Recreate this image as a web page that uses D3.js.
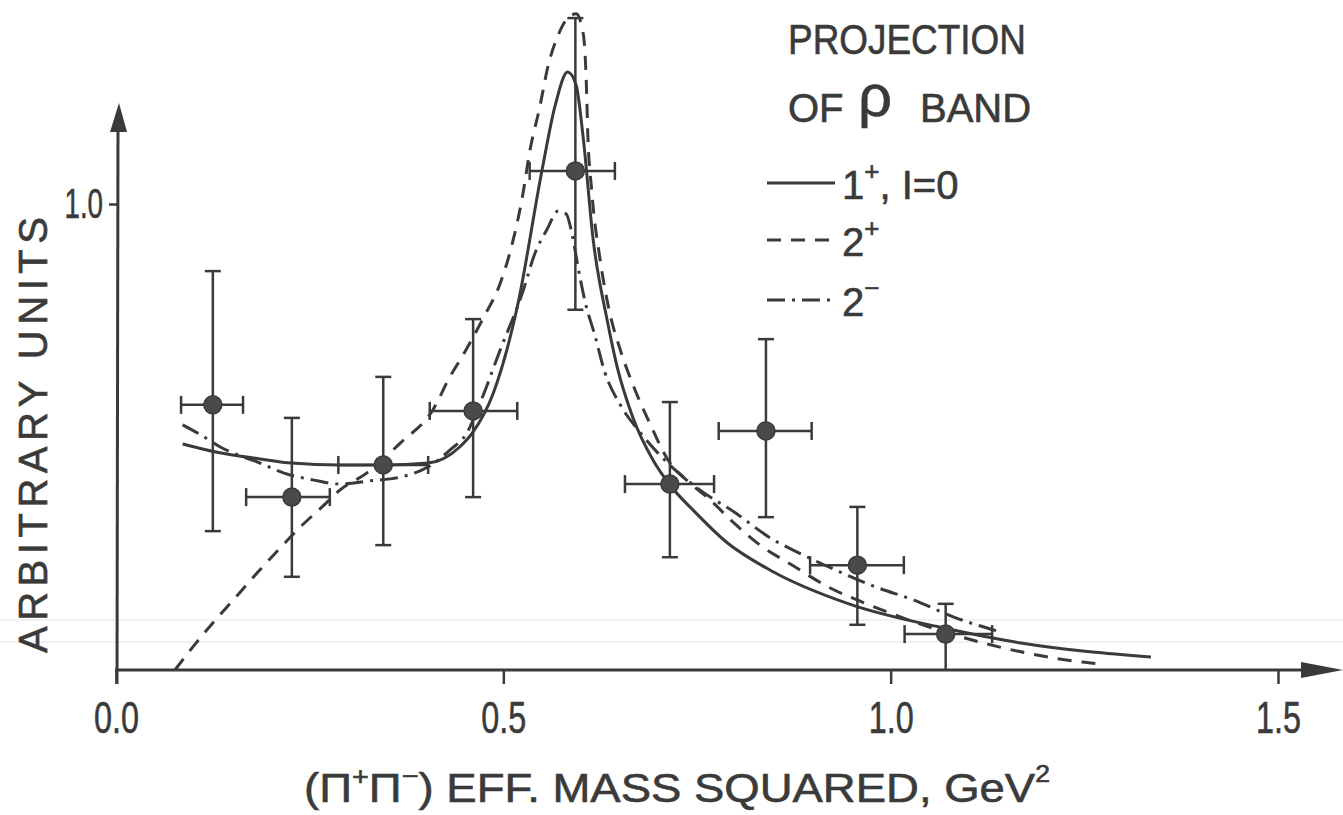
<!DOCTYPE html>
<html lang="en">
<head>
    <meta charset="UTF-8">
    <title>Projection of rho band</title>
    <script src="https://d3js.org/d3.v7.min.js"></script>
    <style>
        html, body { margin: 0; padding: 0; background: #fff; overflow: hidden; }
        text { fill: #3a3a3a; stroke: #3a3a3a; stroke-width: 0.6; font-family: "Liberation Sans", Arial, sans-serif; }
    </style>
</head>
<body>
<div id="chart"></div>
<script>

    // measured points with error bars
    var pointX = [0.125, 0.227, 0.345, 0.461, 0.593, 0.715, 0.839, 0.957, 1.071];
    var pointY = [0.569, 0.371, 0.440, 0.556, 1.071, 0.399, 0.513, 0.225, 0.077];
    var xLow   = [0.084, 0.168, 0.287, 0.405, 0.534, 0.657, 0.778, 0.896, 1.018];
    var xHigh  = [0.164, 0.276, 0.403, 0.518, 0.644, 0.772, 0.898, 1.017, 1.131];
    var yLow   = [0.298, 0.200, 0.268, 0.371, 0.773, 0.242, 0.328, 0.097, 0.000];
    var yHigh  = [0.856, 0.541, 0.629, 0.753, 1.399, 0.575, 0.710, 0.350, 0.142];

    // 1+, I=0 (solid)
    var solidX = [0.086, 0.134, 0.186, 0.227, 0.289, 0.345, 0.403, 0.444, 0.461, 0.487, 0.518, 0.550, 0.567, 0.583,
                  0.594, 0.603, 0.616, 0.634, 0.647, 0.667, 0.693, 0.715, 0.745, 0.789, 0.847, 0.946, 1.069, 1.168, 1.257, 1.336];
    var solidY = [0.485, 0.466, 0.453, 0.444, 0.440, 0.440, 0.444, 0.479, 0.511, 0.594, 0.779, 1.073, 1.212, 1.283,
                  1.255, 1.144, 0.923, 0.751, 0.650, 0.543, 0.451, 0.397, 0.343, 0.273, 0.212, 0.142, 0.090, 0.058, 0.039, 0.028];

    // 2+ (dashed)
    var dashX = [0.076, 0.099, 0.125, 0.156, 0.182, 0.208, 0.238, 0.266, 0.289, 0.324, 0.367, 0.409, 0.431, 0.448, 0.474,
                 0.496, 0.512, 0.525, 0.534, 0.547, 0.558, 0.571, 0.583, 0.594, 0.603, 0.607, 0.609, 0.614, 0.625, 0.638,
                 0.651, 0.670, 0.690, 0.711, 0.741, 0.763, 0.798, 0.833, 0.871, 0.922, 0.966, 1.069, 1.168, 1.209, 1.248, 1.271];
    var dashY = [0.000, 0.049, 0.101, 0.159, 0.208, 0.255, 0.307, 0.350, 0.386, 0.423, 0.487, 0.558, 0.629, 0.676, 0.755,
                 0.830, 0.918, 1.019, 1.112, 1.208, 1.298, 1.363, 1.399, 1.408, 1.367, 1.266, 1.152, 1.030, 0.880, 0.762,
                 0.687, 0.601, 0.526, 0.455, 0.401, 0.371, 0.315, 0.266, 0.227, 0.176, 0.144, 0.082, 0.039, 0.026, 0.017, 0.013];

    // 2- (dash-dot)
    var dotDashX = [0.086, 0.108, 0.134, 0.186, 0.216, 0.254, 0.289, 0.328, 0.367, 0.403, 0.431, 0.453, 0.470, 0.496,
                    0.525, 0.541, 0.556, 0.571, 0.581, 0.589, 0.596, 0.605, 0.618, 0.631, 0.651, 0.676, 0.711, 0.754,
                    0.798, 0.847, 0.882, 0.935, 0.981, 1.030, 1.084, 1.141];
    var dotDashY = [0.526, 0.506, 0.479, 0.444, 0.423, 0.408, 0.399, 0.406, 0.414, 0.436, 0.472, 0.509, 0.573, 0.687,
                    0.811, 0.895, 0.944, 0.985, 0.979, 0.933, 0.869, 0.794, 0.719, 0.639, 0.569, 0.511, 0.446, 0.386,
                    0.339, 0.281, 0.251, 0.210, 0.178, 0.150, 0.112, 0.082];

    var xTicks = [0.0, 0.5, 1.0, 1.5];
    var yTicks = [1.0];

    var legendNames = ["1", "2", "2"];
    var legendSups = ["+", "+", "\u2212"];
    var legendRest = [", I=0", "", ""];

    var ink = "#3a3a3a";
    var width = 1343, height = 815;

    var svg = d3.select("#chart").append("svg")
        .attr("width", width)
        .attr("height", height);

    var x = d3.scaleLinear().domain([0, 1.5]).range([116, 1278]);
    var y = d3.scaleLinear().domain([0, 1]).range([670, 204]);

    // squeeze a text element horizontally (the original lettering is narrow)
    function squeeze(sel, k) {
        sel.each(function () {
            var w = this.getComputedTextLength();
            d3.select(this).attr("textLength", w * k).attr("lengthAdjust", "spacingAndGlyphs");
        });
    }

    // faint scanner streaks
    svg.selectAll("line.streak")
        .data([620, 642])
        .enter().append("line")
        .attr("x1", 0).attr("x2", width)
        .attr("y1", function (d) { return d; }).attr("y2", function (d) { return d; })
        .attr("stroke", "#e2e2e2").attr("stroke-width", 1);

    // axes lines with arrows
    svg.append("line")
        .attr("x1", x(0) - 1).attr("x2", width - 30)
        .attr("y1", y(0)).attr("y2", y(0))
        .attr("stroke", ink).attr("stroke-width", 3);
    svg.append("path")
        .attr("d", "M" + (width - 42) + "," + (y(0) - 8) + "L" + width + "," + y(0) + "L" + (width - 42) + "," + (y(0) + 8) + "Z")
        .attr("fill", ink);

    svg.append("line")
        .attr("x1", x(0) + 1).attr("x2", x(0) + 2)
        .attr("y1", y(0) + 14).attr("y2", 125)
        .attr("stroke", ink).attr("stroke-width", 3);
    svg.append("path")
        .attr("d", "M" + (x(0) - 6) + ",132L" + (x(0) + 3) + ",103L" + (x(0) + 11) + ",132Z")
        .attr("fill", ink);

    // tick marks and labels
    var xAxis = svg.append("g")
        .attr("transform", "translate(0," + y(0) + ")")
        .call(d3.axisBottom(x).tickValues(xTicks).tickFormat(d3.format(".1f")).tickSizeInner(14).tickSizeOuter(0).tickPadding(17));
    xAxis.select(".domain").remove();
    xAxis.selectAll("line").attr("stroke", ink).attr("stroke-width", 2.5);
    xAxis.selectAll("text").attr("font-size", 45).attr("fill", ink).attr("font-family", null);
    squeeze(xAxis.selectAll("text"), 0.72);

    var yAxis = svg.append("g")
        .attr("transform", "translate(" + (x(0) + 1) + ",0)")
        .call(d3.axisLeft(y).tickValues(yTicks).tickFormat(d3.format(".1f")).tickSizeInner(8).tickSizeOuter(0).tickPadding(6));
    yAxis.select(".domain").remove();
    yAxis.selectAll("line").attr("stroke", ink).attr("stroke-width", 2.5);
    yAxis.selectAll("text").attr("font-size", 42).attr("fill", ink).attr("font-family", null);
    squeeze(yAxis.selectAll("text"), 0.66);

    // axis titles
    var xTitle = svg.append("text")
        .attr("x", 304).attr("y", 802)
        .attr("font-size", 41)
        .attr("textLength", 746).attr("lengthAdjust", "spacingAndGlyphs");
    xTitle.append("tspan").text("(\u03A0");
    xTitle.append("tspan").attr("font-size", 26).attr("dy", -17).text("+");
    xTitle.append("tspan").attr("dy", 17).text("\u03A0");
    xTitle.append("tspan").attr("font-size", 26).attr("dy", -17).text("\u2212");
    xTitle.append("tspan").attr("dy", 17).text(")  EFF. MASS   SQUARED, GeV");
    xTitle.append("tspan").attr("font-size", 24).attr("dy", -20).text("2");

    svg.append("text")
        .attr("transform", "translate(47,435) rotate(-90)")
        .attr("text-anchor", "middle")
        .attr("font-size", 40)
        .attr("textLength", 436).attr("lengthAdjust", "spacing")
        .text("ARBITRARY  UNITS");

    // curves
    function toPairs(xs, ys) { return xs.map(function (v, i) { return [v, ys[i]]; }); }
    var line = d3.line()
        .x(function (d) { return x(d[0]); })
        .y(function (d) { return y(d[1]); })
        .curve(d3.curveMonotoneX);

    var curves = [
        { pts: toPairs(solidX, solidY), dash: null },
        { pts: toPairs(dashX, dashY), dash: "14,10" },
        { pts: toPairs(dotDashX, dotDashY), dash: "18,7,3,7" }
    ];

    svg.selectAll("path.curve")
        .data(curves)
        .enter().append("path")
        .attr("class", "curve")
        .attr("d", function (d) { return line(d.pts); })
        .attr("fill", "none")
        .attr("stroke", ink)
        .attr("stroke-width", 3)
        .attr("stroke-dasharray", function (d) { return d.dash; });

    // error bars and points
    var pts = pointX.map(function (v, i) { return i; });
    var bars = svg.append("g").attr("stroke", ink).attr("stroke-width", 2.5);
    pts.forEach(function (i) {
        var cx = x(pointX[i]), cy = y(pointY[i]);
        bars.append("line").attr("x1", x(xLow[i])).attr("x2", x(xHigh[i])).attr("y1", cy).attr("y2", cy);
        bars.append("line").attr("x1", x(xLow[i])).attr("x2", x(xLow[i])).attr("y1", cy - 9).attr("y2", cy + 9);
        bars.append("line").attr("x1", x(xHigh[i])).attr("x2", x(xHigh[i])).attr("y1", cy - 9).attr("y2", cy + 9);
        bars.append("line").attr("x1", cx).attr("x2", cx).attr("y1", y(yLow[i])).attr("y2", y(yHigh[i]));
        bars.append("line").attr("x1", cx - 8).attr("x2", cx + 8).attr("y1", y(yHigh[i])).attr("y2", y(yHigh[i]));
        if (yLow[i] > 0) {
            bars.append("line").attr("x1", cx - 8).attr("x2", cx + 8).attr("y1", y(yLow[i])).attr("y2", y(yLow[i]));
        }
    });
    svg.selectAll("circle.pt")
        .data(pts)
        .enter().append("circle")
        .attr("class", "pt")
        .attr("cx", function (i) { return x(pointX[i]); })
        .attr("cy", function (i) { return y(pointY[i]); })
        .attr("r", 9)
        .attr("fill", "#4a4a4a")
        .attr("stroke", ink).attr("stroke-width", 1.5);

    // legend
    svg.append("text").attr("x", 788).attr("y", 54).attr("font-size", 42)
        .attr("textLength", 238).attr("lengthAdjust", "spacingAndGlyphs")
        .text("PROJECTION");
    var of = svg.append("text").attr("y", 122).attr("font-size", 40);
    of.append("tspan").attr("x", 788).text("OF");
    of.append("tspan").attr("x", 858).attr("font-size", 60).attr("dy", -6).text("\u03C1");
    of.append("tspan").attr("x", 920).attr("dy", 6).text("BAND");

    var rowY = [183, 240, 300];
    var legend = svg.append("g");
    curves.forEach(function (c, i) {
        legend.append("line")
            .attr("x1", 767).attr("x2", 835)
            .attr("y1", rowY[i]).attr("y2", rowY[i])
            .attr("stroke", ink).attr("stroke-width", 3)
            .attr("stroke-dasharray", c.dash);
        var t = legend.append("text").attr("x", 842).attr("y", rowY[i] + 16).attr("font-size", 40);
        t.append("tspan").text(legendNames[i]);
        t.append("tspan").attr("font-size", 26).attr("dy", -19).text(legendSups[i]);
        if (legendRest[i]) {
            t.append("tspan").attr("dy", 19).text(legendRest[i]);
        }
    });

</script>
</body>
</html>
